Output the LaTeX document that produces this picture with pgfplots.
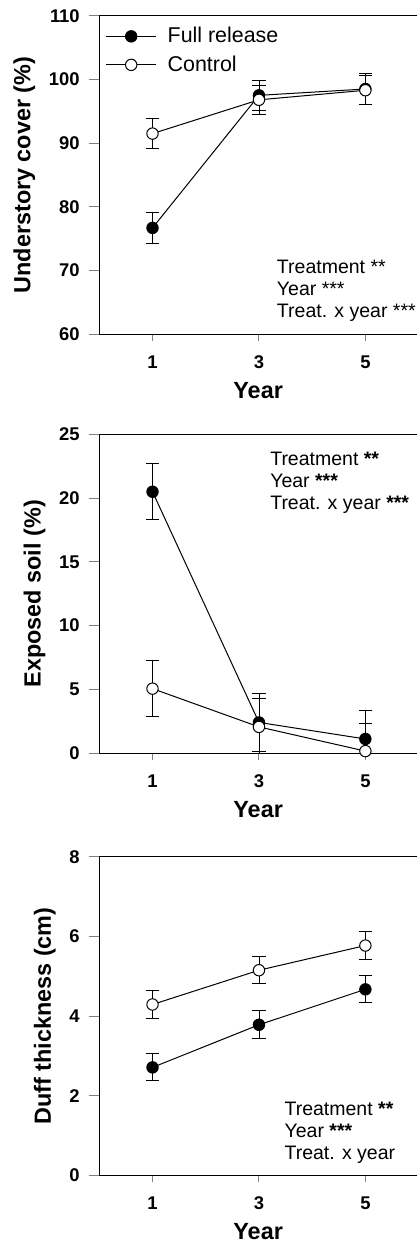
\documentclass[border=0pt]{standalone}
\usepackage{fontspec}
\setmainfont{Liberation Sans}
\usepackage{pgfplots}
\pgfplotsset{compat=1.18}

\pgfplotsset{
  panel/.style={
    scale only axis, width=158.85pt, height=159.3pt,
    xmin=0, xmax=5.97, xtick={1,3,5},
    axis x line*=box, axis y line*=left,
    xtick pos=left, ytick pos=left,
    tick align=outside,
    axis line style={line width=0.5pt},
    xtick style={line width=0.5pt, /pgfplots/major tick length=3.5pt},
    ytick style={line width=0.5pt, /pgfplots/major tick length=5pt},
    minor tick num=0,
    /pgf/number format/assume math mode=true,
    ticklabel style={font=\bfseries\fontsize{9.2}{10}\selectfont},
    yticklabel style={xshift=-2pt},
    xticklabel style={yshift=-3pt},
    label style={font=\bfseries\fontsize{11.7}{14}\selectfont},
    xlabel={Year},
    clip mode=individual,
  },
  full/.style={black, line width=0.5pt, mark=*, mark size=2.85pt,
    mark options={fill=black, line width=0.5pt},
    error bars/.cd, y dir=both, y explicit,
    error mark options={rotate=90, line width=0.5pt, mark size=3.3pt}},
  ctrl/.style={black, line width=0.5pt, mark=*, mark size=2.85pt,
    mark options={fill=white, line width=0.5pt},
    error bars/.cd, y dir=both, y explicit,
    error mark options={rotate=90, line width=0.5pt, mark size=3.3pt}},
}
\tikzset{stats/.style={anchor=north west, inner sep=0pt, align=left,
    font=\fontsize{9.75}{10.85}\selectfont}}

\begin{document}
\begin{tikzpicture}
\useasboundingbox (0,0) rectangle (208.5pt,-621pt);

% Understory cover
\begin{axis}[panel, at={(49.65pt,-167.15pt)}, anchor=south west,
  ymin=60, ymax=110, ytick={60,70,80,90,100,110},
  ylabel={Understory cover (\%)},
  legend cell align=left,
  legend style={draw=none, fill=none, at={(rel axis cs:0,1)}, anchor=north west,
    yshift=-1.5pt, font=\fontsize{10.7}{12}\selectfont, row sep=1pt},
  legend image code/.code={\draw[mark repeat=2, mark phase=2, #1]
    plot coordinates {(0pt,0pt) (12.5pt,0pt) (25pt,0pt)};
    \path (28.5pt,0pt);},
]
\addplot+[full] coordinates {(1,76.7) +- (0,2.4) (3,97.5) +- (0,2.4) (5,98.5) +- (0,2.4)};
\addlegendentry{Full release}
\addplot+[ctrl] coordinates {(1,91.5) +- (0,2.4) (3,96.8) +- (0,2.3) (5,98.3) +- (0,2.3)};
\addlegendentry{Control}
\node[stats] at ([yshift=-122.15pt]rel axis cs:0.558,1)
  {Treatment **\\Year ***\\Treat. x year ***};
\end{axis}

% Exposed soil
\begin{axis}[panel, at={(49.65pt,-376.5pt)}, anchor=south west,
  ymin=0, ymax=25, ytick={0,5,10,15,20,25},
  ylabel={Exposed soil (\%)},
]
\addplot+[full] coordinates {(1,20.5) +- (0,2.2) (3,2.4) +- (0,2.25) (5,1.1) +- (0,2.2)};
\addplot+[ctrl] coordinates {(1,5.05) +- (0,2.2) (3,2.05) +- (0,2.2) (5,0.15) +- (0,2.2)};
\node[stats] at ([yshift=-8.7pt]rel axis cs:0.537,1)
  {Treatment \textbf{**}\\Year \textbf{***}\\Treat. x year \textbf{***}};
\end{axis}

% Duff thickness
\begin{axis}[panel, at={(49.65pt,-587.65pt)}, anchor=south west,
  ymin=0, ymax=8, ytick={0,2,4,6,8},
  ylabel={Duff thickness (cm)},
]
\addplot+[full] coordinates {(1,2.71) +- (0,0.34) (3,3.78) +- (0,0.355) (5,4.67) +- (0,0.34)};
\addplot+[ctrl] coordinates {(1,4.29) +- (0,0.34) (3,5.15) +- (0,0.34) (5,5.77) +- (0,0.34)};
\node[stats] at ([yshift=-122.65pt]rel axis cs:0.582,1)
  {Treatment \textbf{**}\\Year \textbf{***}\\Treat. x year};
\end{axis}
\end{tikzpicture}
\end{document}
